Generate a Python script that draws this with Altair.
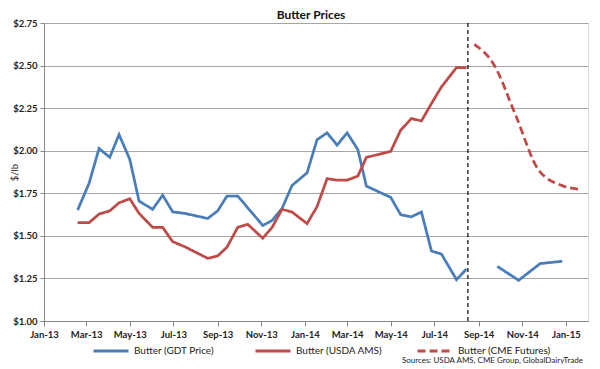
import altair as alt
import pandas as pd

TITLE = "Butter Prices"
SOURCE = "Sources:  USDA AMS, CME Group, GlobalDairyTrade"
SERIES = ["Butter (GDT Price)", "Butter (USDA AMS)", "Butter (CME Futures)"]
COLORS = ["#4A7EBB", "#BE4B48", "#BE4B48"]

gdt_dates = ["2013-02-17", "2013-03-05", "2013-03-19", "2013-04-03", "2013-04-16", "2013-05-01",
             "2013-05-14", "2013-06-02", "2013-06-16", "2013-06-30", "2013-07-17", "2013-08-18",
             "2013-09-01", "2013-09-14", "2013-09-29", "2013-11-03", "2013-11-16", "2013-11-30",
             "2013-12-14", "2014-01-04", "2014-01-18", "2014-02-01", "2014-02-15", "2014-03-01",
             "2014-03-16", "2014-03-28", "2014-05-01", "2014-05-15", "2014-05-30", "2014-06-13",
             "2014-06-27", "2014-07-11", "2014-08-01", "2014-08-15", "2014-09-01", "2014-09-27",
             "2014-10-27", "2014-11-26", "2014-12-27"]
gdt_prices = [1.651, 1.808, 2.013, 1.961, 2.095, 1.949,
              1.704, 1.656, 1.739, 1.641, 1.632, 1.602,
              1.647, 1.734, 1.734, 1.561, 1.590, 1.661,
              1.796, 1.870, 2.065, 2.105, 2.033, 2.105,
              2.007, 1.792, 1.726, 1.624, 1.612, 1.640,
              1.411, 1.393, 1.243, 1.305, None, 1.321,
              1.239, 1.337, 1.351]

ams_dates = ["2013-02-17", "2013-03-05", "2013-03-19", "2013-04-03", "2013-04-16", "2013-05-01",
             "2013-05-14", "2013-06-02", "2013-06-16", "2013-06-30", "2013-07-17", "2013-08-18",
             "2013-09-01", "2013-09-14", "2013-09-29", "2013-10-13", "2013-11-03", "2013-11-16",
             "2013-11-30", "2013-12-14", "2014-01-04", "2014-01-18", "2014-02-01", "2014-02-15",
             "2014-03-01", "2014-03-16", "2014-03-28", "2014-05-01", "2014-05-15", "2014-05-30",
             "2014-06-13", "2014-06-27", "2014-07-11", "2014-08-01", "2014-08-15"]
ams_prices = [1.577, 1.577, 1.628, 1.647, 1.694, 1.718,
              1.632, 1.550, 1.550, 1.466, 1.436, 1.368,
              1.382, 1.434, 1.550, 1.568, 1.486, 1.549,
              1.656, 1.640, 1.572, 1.672, 1.836, 1.827,
              1.827, 1.851, 1.961, 1.996, 2.121, 2.189,
              2.175, 2.277, 2.375, 2.488, 2.488]

cme_dates = ["2014-08-26", "2014-09-22", "2014-10-23", "2014-11-24", "2014-12-27", "2015-01-22"]
cme_prices = [2.625, 2.508, 2.206, 1.886, 1.795, 1.773]

forecast_start = ["2014-08-17"]

x_ticks = ["2013-01-01", "2013-03-01", "2013-05-01", "2013-07-01", "2013-09-01", "2013-11-01",
           "2014-01-01", "2014-03-01", "2014-05-01", "2014-07-01", "2014-09-01", "2014-11-01",
           "2015-01-01"]
y_ticks = [1.00, 1.25, 1.50, 1.75, 2.00, 2.25, 2.50, 2.75]


def dt(s):
    y, m, d = (int(p) for p in s.split("-"))
    return alt.DateTime(year=y, month=m, date=d, utc=True)


rows = []
seg = 0
for d, v in zip(gdt_dates, gdt_prices):
    if v is None:
        seg += 1
        continue
    rows.append({"date": d, "price": v, "series": SERIES[0], "seg": f"g{seg}"})
for d, v in zip(ams_dates, ams_prices):
    rows.append({"date": d, "price": v, "series": SERIES[1], "seg": "a"})
hist = pd.DataFrame(rows)
cme = pd.DataFrame({"date": cme_dates, "price": cme_prices, "series": SERIES[2], "seg": "c"})

FONT = "Lato"
TXT = "#222222"

x_enc = alt.X(
    "date:T",
    title=None,
    scale=alt.Scale(type="utc", domain=[dt("2013-01-01"), dt("2015-02-01")]),
    axis=alt.Axis(values=[dt(s) for s in x_ticks], format="%b-%y", grid=False,
                  domainColor="#868686", tickColor="#868686", tickSize=5,
                  labelFont=FONT, labelFontSize=9.5, labelFontWeight="bold", labelColor=TXT,
                  labelPadding=3, labelFlush=False, labelOverlap=False),
)
y_enc = alt.Y(
    "price:Q",
    scale=alt.Scale(domain=[1.0, 2.75], nice=False, zero=False),
    axis=alt.Axis(values=y_ticks, format="$.2f", title="$/lb",
                  titleX=-30, titleY=149, titleAngle=270, titleAlign="center",
                  titleBaseline="middle", titleFont=FONT, titleFontSize=9.5,
                  titleFontWeight="normal", titleColor=TXT,
                  domainColor="#868686", tickColor="#868686", tickSize=4,
                  gridColor="#A6A6A6", gridWidth=1,
                  labelFont=FONT, labelFontSize=9.5, labelFontWeight="bold", labelColor=TXT,
                  labelPadding=3),
)
legend = alt.Legend(orient="none", legendX=48, legendY=309, direction="horizontal",
                    title=None, symbolType="stroke", symbolSize=1225, symbolStrokeWidth=3,
                    labelFont=FONT, labelFontSize=10, labelColor=TXT, labelOffset=4,
                    columnPadding=22, gridAlign="all", labelLimit=300)
color_enc = alt.Color("series:N", scale=alt.Scale(domain=SERIES, range=COLORS), legend=legend)
dash_enc = alt.StrokeDash("series:N",
                          scale=alt.Scale(domain=SERIES, range=[[1, 0], [1, 0], [8, 4]]),
                          legend=legend)

hist_layer = alt.Chart(hist).mark_line(strokeWidth=2.75).encode(
    x=x_enc, y=y_enc, color=color_enc, strokeDash=dash_enc, detail="seg:N"
)
cme_layer = alt.Chart(cme).mark_line(strokeWidth=2.75, interpolate="monotone").encode(
    x=x_enc, y=y_enc, color=color_enc, strokeDash=dash_enc, detail="seg:N"
)
rule_layer = alt.Chart(pd.DataFrame({"date": forecast_start})).mark_rule(
    color="black", strokeWidth=1.2, strokeDash=[4, 3]
).encode(x="date:T")
src_layer = alt.Chart(pd.DataFrame({"t": [SOURCE]})).mark_text(
    align="right", baseline="middle", font=FONT, fontSize=8, color=TXT
).encode(x=alt.value(539), y=alt.value(338), text="t:N")

chart = alt.layer(hist_layer, cme_layer, rule_layer, src_layer).properties(
    width=544,
    height=298,
    title=alt.TitleParams(TITLE, font=FONT, fontSize=12, fontWeight="bold", color="#111111",
                          anchor="middle", dx=-5, dy=8, offset=4),
    autosize=alt.AutoSizeParams(type="none"),
    padding={"left": 36, "top": 15, "right": 4, "bottom": 46},
).configure_view(stroke=None).configure(background="white")

chart.save("out.html", embed_options={"renderer": "svg", "actions": False})
